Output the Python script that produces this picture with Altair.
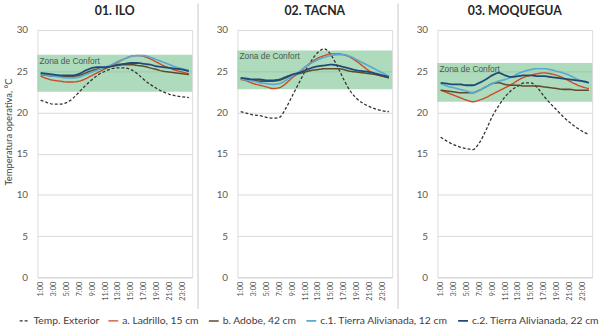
import altair as alt
import pandas as pd

horas = ["1:00", "2:00", "3:00", "4:00", "5:00", "6:00", "7:00", "8:00", "9:00", "10:00", "11:00", "12:00",
         "13:00", "14:00", "15:00", "16:00", "17:00", "18:00", "19:00", "20:00", "21:00", "22:00", "23:00", "24:00"]
etiquetas = ["1:00", "3:00", "5:00", "7:00", "9:00", "11:00", "13:00", "15:00", "17:00", "19:00", "21:00", "23:00"]

series = ["Temp. Exterior", "a. Ladrillo, 15 cm", "b. Adobe, 42 cm",
          "c.1. Tierra Alivianada, 12 cm", "c.2. Tierra Alivianada, 22 cm"]
colores = ["#333333", "#cc4a25", "#5e4a2c", "#5aa9d3", "#1f4a78"]
trazos = [[3, 2], [1, 0], [1, 0], [1, 0], [1, 0]]
grosores = [1.3, 1.8, 1.8, 1.8, 1.8]

ciudades = ["01. ILO", "02. TACNA", "03. MOQUEGUA"]
confort_min = [22.5, 22.8, 21.3]
confort_max = [27.0, 27.5, 26.0]

# 01. ILO
ilo_ext = [21.5, 21.2, 21.0, 21.0, 21.2, 21.7, 22.5, 23.3, 24.0, 24.6, 25.0, 25.3,
           25.4, 25.4, 25.2, 24.7, 24.0, 23.4, 22.9, 22.5, 22.2, 22.0, 21.9, 21.8]
ilo_lad = [24.4, 24.1, 23.9, 23.8, 23.7, 23.7, 23.8, 24.1, 24.5, 24.9, 25.3, 25.7,
           26.1, 26.5, 26.8, 26.9, 26.8, 26.5, 26.1, 25.7, 25.4, 25.1, 24.9, 24.7]
ilo_ado = [24.6, 24.5, 24.4, 24.4, 24.4, 24.4, 24.5, 24.8, 25.1, 25.3, 25.4, 25.6,
           25.7, 25.8, 25.8, 25.7, 25.6, 25.4, 25.2, 25.0, 24.9, 24.8, 24.7, 24.6]
ilo_c1 = [24.7, 24.5, 24.4, 24.3, 24.2, 24.2, 24.3, 24.6, 24.9, 25.2, 25.5, 25.8,
          26.2, 26.5, 26.8, 26.9, 26.9, 26.7, 26.4, 26.1, 25.8, 25.5, 25.3, 25.1]
ilo_c2 = [24.8, 24.7, 24.6, 24.5, 24.5, 24.5, 24.7, 25.1, 25.4, 25.5, 25.5, 25.6,
          25.8, 25.9, 26.0, 26.0, 25.9, 25.8, 25.6, 25.5, 25.4, 25.3, 25.2, 25.0]

# 02. TACNA
tac_ext = [20.1, 19.9, 19.7, 19.6, 19.4, 19.3, 19.4, 20.5, 22.0, 23.5, 25.0, 26.3,
           27.3, 27.7, 27.0, 25.6, 24.0, 22.6, 21.7, 21.1, 20.7, 20.4, 20.2, 20.1]
tac_lad = [24.0, 23.8, 23.5, 23.3, 23.1, 22.9, 23.0, 23.5, 24.2, 24.8, 25.5, 26.1,
           26.6, 26.9, 27.1, 27.1, 27.0, 26.7, 26.2, 25.6, 25.0, 24.6, 24.4, 24.2]
tac_ado = [24.1, 24.0, 23.9, 23.8, 23.8, 23.8, 23.9, 24.2, 24.5, 24.7, 24.9, 25.1,
           25.2, 25.3, 25.3, 25.3, 25.2, 25.0, 24.9, 24.8, 24.7, 24.6, 24.4, 24.2]
tac_c1 = [24.1, 23.9, 23.8, 23.6, 23.5, 23.4, 23.5, 23.9, 24.4, 24.9, 25.5, 26.0,
          26.4, 26.7, 26.9, 27.0, 27.0, 26.8, 26.4, 26.0, 25.6, 25.2, 24.8, 24.4]
tac_c2 = [24.2, 24.1, 24.0, 24.0, 23.9, 23.9, 24.0, 24.3, 24.6, 24.8, 25.1, 25.4,
          25.6, 25.7, 25.8, 25.7, 25.5, 25.3, 25.1, 25.0, 24.9, 24.7, 24.5, 24.3]

# 03. MOQUEGUA
moq_ext = [17.0, 16.5, 16.1, 15.8, 15.6, 15.5, 16.3, 17.8, 19.5, 20.8, 21.9, 22.7,
           23.2, 23.6, 23.6, 23.0, 22.0, 21.1, 20.3, 19.5, 18.8, 18.2, 17.7, 17.3]
moq_lad = [22.7, 22.4, 22.1, 21.8, 21.5, 21.3, 21.5, 21.8, 22.2, 22.6, 23.0, 23.4,
           23.9, 24.3, 24.5, 24.7, 24.8, 24.7, 24.5, 24.2, 23.8, 23.4, 23.1, 22.9]
moq_ado = [22.7, 22.6, 22.5, 22.4, 22.4, 22.4, 22.7, 23.1, 23.5, 23.6, 23.4, 23.3,
           23.3, 23.2, 23.2, 23.2, 23.1, 23.0, 22.9, 22.8, 22.8, 22.7, 22.7, 22.7]
moq_c1 = [23.5, 23.2, 23.0, 22.8, 22.6, 22.4, 22.7, 23.1, 23.5, 23.8, 24.0, 24.3,
          24.7, 25.0, 25.2, 25.3, 25.3, 25.2, 25.0, 24.8, 24.5, 24.1, 23.8, 23.6]
moq_c2 = [23.6, 23.5, 23.4, 23.4, 23.3, 23.3, 23.6, 24.0, 24.5, 24.8, 24.5, 24.3,
          24.4, 24.5, 24.5, 24.4, 24.4, 24.3, 24.2, 24.1, 24.0, 23.9, 23.8, 23.6]

datos = {
    "01. ILO": [ilo_ext, ilo_lad, ilo_ado, ilo_c1, ilo_c2],
    "02. TACNA": [tac_ext, tac_lad, tac_ado, tac_c1, tac_c2],
    "03. MOQUEGUA": [moq_ext, moq_lad, moq_ado, moq_c1, moq_c2],
}

FONT = "Lato"
W, H = 157, 251


def make_legend():
    return alt.Legend(title=None, orient="none", legendX=-19, legendY=289,
                      direction="horizontal", columns=5, symbolType="stroke",
                      symbolSize=100, symbolStrokeWidth=2, labelFont=FONT,
                      labelFontSize=10.5, labelColor="#404040", labelLimit=300,
                      columnPadding=6, labelOffset=3)


def panel(idx):
    ciudad = ciudades[idx]
    rows = []
    for s, vals in zip(series, datos[ciudad]):
        for h, v in zip(horas, vals):
            rows.append({"hora": h, "serie": s, "valor": v})
    df = pd.DataFrame(rows)
    banda_df = pd.DataFrame({"lo": [confort_min[idx]], "hi": [confort_max[idx]],
                             "lbl": ["Zona de Confort"], "ciudad": [ciudad]})

    ax = dict(values=[0, 5, 10, 15, 20, 25, 30], grid=True, gridColor="#d9d9d9",
              domain=False, ticks=False, labelPadding=10, labelFontSize=10,
              labelFont=FONT, labelColor="#595959")
    if idx == 0:
        yaxis = alt.Axis(title="Temperatura operativa, °C", titleFont=FONT,
                         titleFontSize=9.5, titleFontWeight="normal",
                         titleColor="#404040", titleX=-29, titleY=103,
                         titleAlign="center", titleBaseline="middle", titleAngle=270, **ax)
    else:
        yaxis = alt.Axis(title=None, **ax)
    yscale = alt.Scale(domain=[0, 30], nice=False, zero=True)

    banda = alt.Chart(banda_df).mark_rect(fill="#62ba7e", opacity=0.52).encode(
        y=alt.Y("lo:Q", scale=yscale, axis=yaxis), y2="hi:Q")
    lbl = alt.Chart(banda_df).mark_text(
        align="left", baseline="top", dy=2, fontSize=8.5, font="Liberation Sans",
        color="#4d5a50").encode(x=alt.value(2), y=alt.Y("hi:Q", scale=yscale, axis=yaxis),
                                text="lbl:N")
    titulo = alt.Chart(banda_df).mark_text(
        align="center", baseline="middle", fontSize=12.5, font=FONT, fontWeight="bold",
        color="#262626").encode(x=alt.value(W / 2), y=alt.value(-19.5), text="ciudad:N")
    lineas = alt.Chart(df).mark_line(interpolate="monotone").encode(
        x=alt.X("hora:O", sort=horas, title=None,
                axis=alt.Axis(values=etiquetas, labelAngle=-90, labelFontSize=7.5,
                              labelFont=FONT, labelColor="#595959", ticks=False,
                              domainColor="#d9d9d9", grid=False, labelPadding=4)),
        y=alt.Y("valor:Q", scale=yscale, axis=yaxis),
        color=alt.Color("serie:N", sort=series,
                        scale=alt.Scale(domain=series, range=colores),
                        legend=make_legend()),
        strokeDash=alt.StrokeDash("serie:N", sort=series,
                                  scale=alt.Scale(domain=series, range=trazos),
                                  legend=make_legend()),
        strokeWidth=alt.StrokeWidth("serie:N", sort=series,
                                    scale=alt.Scale(domain=series, range=grosores),
                                    legend=make_legend()),
    )
    sep = alt.Chart(pd.DataFrame({"a": [0]})).mark_rule(
        color="#c8c8c8", strokeWidth=1, opacity=1 if idx > 0 else 0).encode(
        x=alt.value(-40 if idx > 0 else 0), y=alt.value(-27), y2=alt.value(283))
    capas = [banda, lineas, lbl, titulo, sep]
    return alt.layer(*capas).properties(width=W, height=H)


chart = alt.hconcat(panel(0), panel(1), panel(2), spacing=4).properties(
    padding={"left": 3, "top": 0, "right": 0, "bottom": 0}
).configure_view(stroke=None).configure(background="white")

chart.save("out.html", embed_options={"renderer": "svg", "actions": False})
